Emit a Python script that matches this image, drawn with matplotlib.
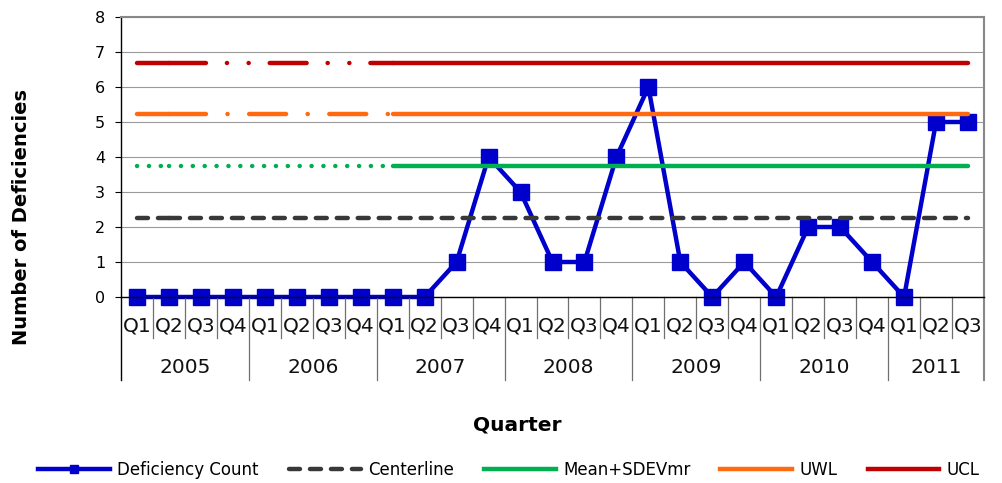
import numpy as np
import matplotlib.pyplot as plt
from matplotlib.lines import Line2D

plt.rcParams['font.family'] = 'DejaVu Sans'
plt.rcParams['lines.scale_dashes'] = False

quarters = ['Q1', 'Q2', 'Q3', 'Q4'] * 6 + ['Q1', 'Q2', 'Q3']
years = ['2005', '2006', '2007', '2008', '2009', '2010', '2011']
deficiencies = [0, 0, 0, 0, 0, 0, 0, 0, 0, 0, 1, 4, 3, 1, 1, 4, 6, 1, 0, 1,
                0, 2, 2, 1, 0, 5, 5]
centerline = [2.27] * 27
mean_sdev = [3.745] * 27
uwl = [5.22] * 27
ucl = [6.69] * 27

# limits are fixed from 2007 Q1 on, earlier quarters get a broken line
fixed_from = 8

W, H = 1002, 483
fig = plt.figure(figsize=(W / 100, H / 100), dpi=100)
ax = fig.add_axes([121 / W, 1 - 297 / H, (984 - 121) / W, 280 / H])

x = np.arange(len(quarters))
lw = 3.2


def limit_line(values, color, dashes, z, solid=True):
    # first quarter and the rest of the baseline each start the pattern anew
    end = fixed_from + 1 if solid else len(x)
    ax.plot(x[:2], values[:2], color=color, lw=lw, linestyle=(0, dashes),
            dash_capstyle='round', zorder=z)
    ax.plot(x[1:end], values[1:end], color=color, lw=lw,
            linestyle=(0, dashes), dash_capstyle='round', zorder=z)
    if solid:
        ax.plot(x[fixed_from:], values[fixed_from:], color=color, lw=lw,
                solid_capstyle='round', zorder=z)


blue = '#0000CC'
ax.plot(x, deficiencies, color=blue, lw=lw, marker='s', ms=12, zorder=2,
        clip_on=False)
limit_line(centerline, '#383838', (7.9, 7.2), 3, solid=False)
limit_line(mean_sdev, '#00B050', (0.1, 8.45), 4)
limit_line(uwl, '#FF6A10', (26.6, 15.5, 0.1, 15.5), 5)
limit_line(ucl, '#C00000', (26.6, 15.1, 0.1, 15.5, 0.1, 15.1), 6)

ax.set_xlim(-0.5, len(x) - 0.5)
ax.set_ylim(0, 8)
ax.set_yticks(range(9))
ax.tick_params(axis='y', direction='out', length=4.3, width=0.8, pad=7,
               labelsize=11.5)
ax.set_xticks([])
ax.yaxis.grid(True, color='#9a9a9a', lw=0.8)
ax.set_axisbelow(True)
for side in ['top', 'right']:
    ax.spines[side].set_color('#888888')
    ax.spines[side].set_linewidth(1.5)
ax.spines['left'].set_linewidth(1)
ax.spines['bottom'].set_linewidth(1)

# two-level category axis: quarters above, years below
tr = ax.get_xaxis_transform()
for i, q in enumerate(quarters):
    ax.text(x[i], -0.105, q, transform=tr, ha='center', va='center',
            fontsize=14.5, color='#111111')
for i in range(1, len(x)):
    low = -0.296 if i % 4 == 0 else -0.146
    ax.plot([i - 0.5, i - 0.5], [0, low], transform=tr, color='#707070',
            lw=0.9, clip_on=False)
ax.plot([-0.5, -0.5], [0, -0.296], transform=tr, color='black', lw=1,
        clip_on=False)
ax.plot([len(x) - 0.5] * 2, [0, -0.296], transform=tr, color='#888888',
        lw=1.5, clip_on=False)
for k, yr in enumerate(years):
    first = 4 * k
    last = min(4 * k + 3, len(x) - 1)
    ax.text((first + last) / 2, -0.252, yr, transform=tr, ha='center',
            va='center', fontsize=14.5, color='#111111')

fig.text(21.5 / W, 1 - 217 / H, 'Number of Deficiencies', rotation=90,
         ha='center', va='center', fontsize=14, fontweight='bold')
fig.text(517 / W, 1 - 425 / H, 'Quarter', ha='center', va='center',
         fontsize=14.5, fontweight='bold')

handles = [
    Line2D([], [], color=blue, lw=lw, marker='s', ms=6),
    Line2D([], [], color='#383838', lw=lw, linestyle=(0, (7.9, 7.2)),
           dash_capstyle='round'),
    Line2D([], [], color='#00B050', lw=lw),
    Line2D([], [], color='#FF6A10', lw=lw),
    Line2D([], [], color='#C00000', lw=lw),
]
labels = ['Deficiency Count', 'Centerline', 'Mean+SDEVmr', 'UWL', 'UCL']
fig.legend(handles, labels, loc='center', bbox_to_anchor=(509 / W, 1 - 470 / H),
           ncol=5, frameon=False, fontsize=12, handlelength=4.3,
           handletextpad=0.45, columnspacing=1.8)

fig.savefig('out.png', dpi=100)
